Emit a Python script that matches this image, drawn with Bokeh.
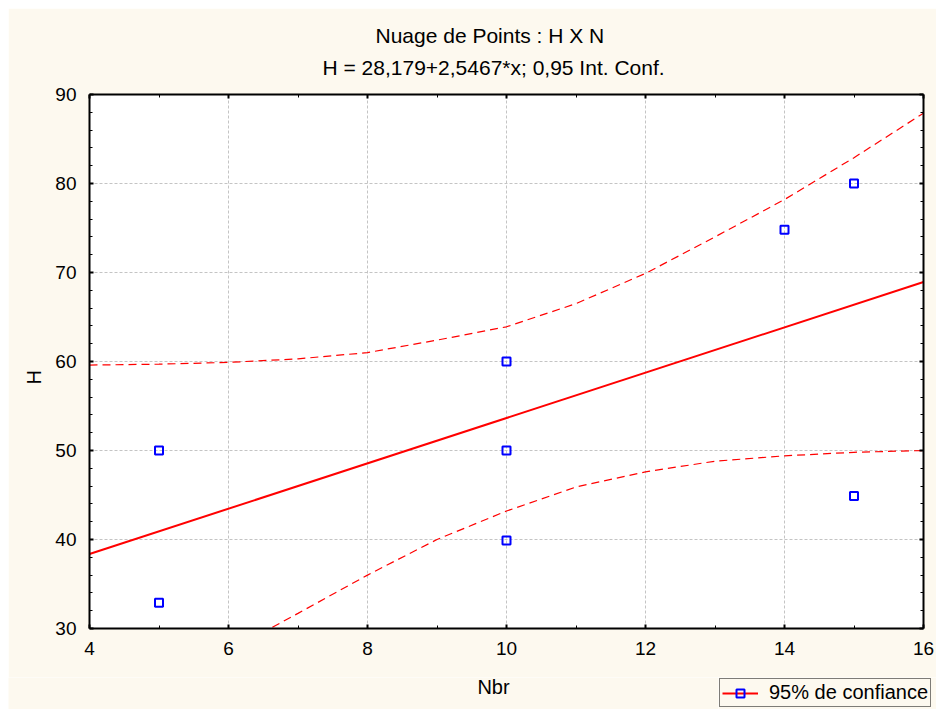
from bokeh.plotting import figure
from bokeh.models import (LinearAxis, FixedTicker, Label, Legend, LegendItem, Title,
                          CustomLabelingPolicy)
from bokeh.layouts import column, row
from bokeh.embed import file_html
from bokeh.resources import INLINE

# ---- data ----
nbr = [5, 5, 10, 10, 10, 14, 15, 15]
h_vals = [50, 32.9, 60, 50, 39.9, 74.8, 80, 44.9]

reg_x = [4, 16]
reg_y = [38.37, 68.93]          # H = 28,179 + 2,5467*x at x=4 and x=16

band_x_up = [4, 5, 6, 7, 8, 9, 10, 11, 12, 13, 14, 15, 16]
band_up = [59.6, 59.7, 59.9, 60.3, 61.0, 62.4, 63.9, 66.5, 69.9, 74.0, 78.2, 82.9, 87.9]
band_x_lo = [6, 6.6, 7, 8, 9, 10, 11, 12, 13, 14, 15, 16]
band_lo = [27.0, 30.0, 31.7, 36.0, 40.0, 43.2, 45.9, 47.6, 48.8, 49.4, 49.8, 50.0]

x_ticks = [4, 6, 8, 10, 12, 14, 16]
x_minor = [5, 7, 9, 11, 13, 15]
y_ticks = [30, 40, 50, 60, 70, 80, 90]
y_minor = [32, 34, 36, 38, 42, 44, 46, 48, 52, 54, 56, 58, 62, 64, 66, 68, 72, 74, 76, 78, 82, 84, 86, 88]

title1 = "Nuage de Points : H X  N"
title2 = "H = 28,179+2,5467*x; 0,95 Int. Conf."
x_label = "Nbr"
y_label = "H"
legend_label = "95% de confiance"

BG = "#FDF9EF"
FONT = "Liberation Sans"

# ---------------- main chart ----------------
p = figure(width=928, height=669, x_range=(4, 16), y_range=(30, 90), title=None,
           output_backend="svg", toolbar_location=None,
           min_border_left=81, min_border_right=13, min_border_top=86, min_border_bottom=49,
           border_fill_color=BG, background_fill_color="white", outline_line_color=None)

xt = FixedTicker(ticks=x_ticks, minor_ticks=x_minor)
yt = FixedTicker(ticks=y_ticks, minor_ticks=y_minor)

bottom_ax = p.xaxis[0]
left_ax = p.yaxis[0]
bottom_ax.ticker = xt
left_ax.ticker = yt
no_labels = CustomLabelingPolicy(code="return []")
top_ax = LinearAxis(ticker=xt, major_label_policy=no_labels, major_label_standoff=0)
right_ax = LinearAxis(ticker=yt, major_label_policy=no_labels, major_label_standoff=0,
                      axis_label_standoff=0)
p.add_layout(top_ax, "above")
p.add_layout(right_ax, "right")

for ax in [bottom_ax, left_ax, top_ax, right_ax]:
    ax.axis_line_color = "black"
    ax.axis_line_width = 2
    ax.major_tick_in = 4
    ax.major_tick_out = 0
    ax.minor_tick_in = 3
    ax.minor_tick_out = 0
    ax.major_tick_line_color = "black"
    ax.major_tick_line_width = 2
    ax.minor_tick_line_color = "black"
    ax.minor_tick_line_width = 1
    ax.major_label_text_font = FONT
    ax.major_label_text_font_size = "19px"
    ax.major_label_text_color = "black"
right_ax.major_label_text_font_size = "1px"
bottom_ax.major_label_standoff = 13
left_ax.major_label_standoff = 13

p.xgrid.ticker = xt
p.ygrid.ticker = yt
for g in [p.xgrid, p.ygrid]:
    g.grid_line_color = "#c4c4c4"
    g.grid_line_dash = "3 2"
    g.grid_line_width = 1

p.line(band_x_up, band_up, line_color="red", line_width=1.2, line_dash="8 5")
p.line(band_x_lo, band_lo, line_color="red", line_width=1.2, line_dash="8 5")
p.line(reg_x, reg_y, line_color="red", line_width=2)
p.scatter(nbr, h_vals, marker="square", size=8, line_color="blue", line_width=2,
          fill_color=None)

p.add_layout(Title(text=title2, align="left", offset=233, standoff=0,
                   text_font=FONT, text_font_size="21px", text_font_style="normal",
                   text_color="black"), "above")
p.add_layout(Title(text=title1, align="left", offset=286, standoff=14,
                   text_font=FONT, text_font_size="21px", text_font_style="normal",
                   text_color="black"), "above")
p.add_layout(Title(text=y_label, align="left", offset=244, standoff=16,
                   text_font=FONT, text_font_size="20px", text_font_style="normal",
                   text_color="black"), "left")

# ---------------- bottom strip: x label + legend ----------------
p_nbr = figure(width=710, height=32, x_range=(0, 1), y_range=(0, 1),
               output_backend="svg", toolbar_location=None,
               x_axis_location=None, y_axis_location=None, min_border=0,
               border_fill_color=BG, background_fill_color=BG, outline_line_color=None)
p_nbr.grid.visible = False
p_nbr.add_layout(Label(x=485, y=23, x_units="screen", y_units="screen", text=x_label,
                       text_align="center", text_baseline="middle",
                       text_font=FONT, text_font_size="20px", text_color="black"))

# legend strip: its renderers reuse the chart data but lie outside this strip's ranges,
# so only the legend swatch is visible
p_leg = figure(width=218, height=32, x_range=(100, 101), y_range=(100, 101),
               output_backend="svg", toolbar_location=None,
               x_axis_location=None, y_axis_location=None, min_border=0,
               border_fill_color=BG, background_fill_color=BG, outline_line_color=None)
p_leg.grid.visible = False
r_line = p_leg.line(reg_x, reg_y, line_color="red", line_width=2)
r_pts = p_leg.scatter(nbr, h_vals, marker="square", size=8, line_color="blue", line_width=2,
                      fill_color=None)
legend = Legend(items=[LegendItem(label=legend_label, renderers=[r_line, r_pts])],
                location="top_left", margin=1, padding=2,
                glyph_width=36, glyph_height=20, label_height=20, label_standoff=11,
                border_line_color="black", border_line_width=1,
                background_fill_color=BG, background_fill_alpha=1,
                label_text_font=FONT, label_text_font_size="20px", label_text_color="black")
p_leg.add_layout(legend)

layout = column(p, row(p_nbr, p_leg, spacing=0), spacing=0, margin=(8, 0, 0, 8))

open("out.html", "w").write(file_html(layout, INLINE))
